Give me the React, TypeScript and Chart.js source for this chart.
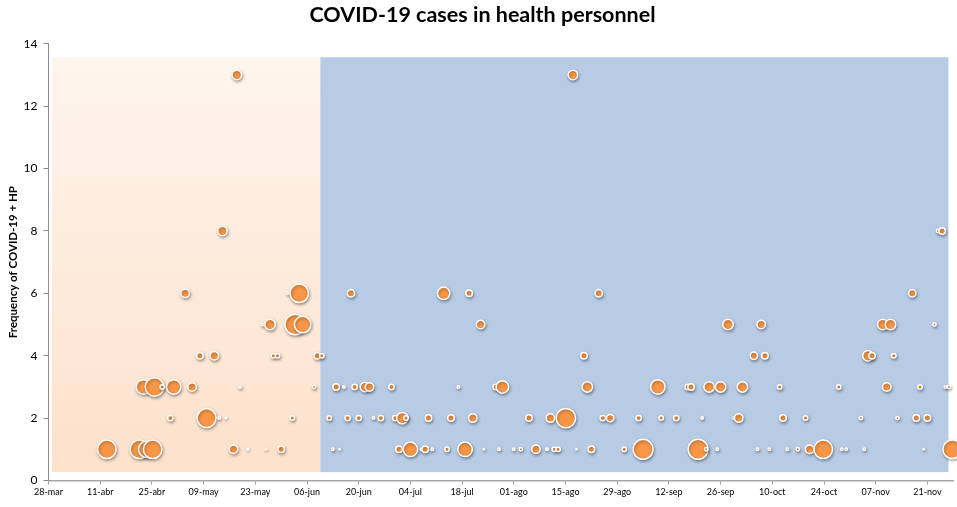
import { useEffect, useRef } from "react";
import { Chart, ChartConfiguration, Plugin, registerables } from "chart.js";

Chart.register(...registerables);

// x values are days counted from 28-mar; second number is the bubble size (area)
const freq1: [number, number][] = [
  [15.8, 100], [24.6, 100], [26.6, 81], [28.2, 100], [50.1, 25], [54.0, 2], [58.9, 2],
  [63.0, 16], [77.0, 4], [78.8, 2], [94.9, 16], [98.0, 64], [101.0, 4], [102.0, 16],
  [103.9, 4], [107.9, 9], [112.8, 64], [117.9, 2], [122.0, 4], [126.0, 4], [127.9, 6],
  [131.1, 4], [132.0, 25], [135.0, 4], [137.0, 9], [138.0, 9], [143.0, 2], [147.0, 16],
  [155.9, 9], [161.0, 115], [175.9, 115], [178.1, 6], [181.1, 4], [192.0, 4], [195.2, 4],
  [200.1, 4], [202.9, 6], [206.1, 25], [208.2, 4], [208.9, 4], [209.8, 100], [214.8, 4],
  [216.0, 4], [220.9, 4], [237.0, 2], [244.7, 100],
];
const freq2: [number, number][] = [
  [33.0, 12], [42.8, 105], [46.2, 4], [48.0, 2], [66.0, 9], [76.0, 9], [81.0, 12],
  [84.0, 12], [88.0, 4], [90.0, 12], [93.9, 12], [95.8, 42], [96.8, 9], [102.9, 16],
  [109.0, 16], [114.9, 25], [130.1, 16], [135.9, 25], [140.1, 110], [150.1, 12],
  [152.1, 20], [159.8, 12], [165.9, 9], [170.0, 12], [177.0, 4], [185.8, 6], [186.9, 25],
  [198.9, 16], [205.0, 9], [220.0, 6], [229.9, 6], [235.0, 16], [238.0, 16],
];
const freq3: [number, number][] = [
  [25.7, 64], [28.7, 100], [30.8, 9], [33.9, 64], [38.9, 25], [51.9, 4], [71.9, 6],
  [77.9, 16], [80.0, 4], [82.9, 12], [85.7, 30], [86.9, 25], [92.9, 12], [111.0, 4],
  [121.1, 12], [122.9, 49], [145.9, 36], [165.0, 64], [173.1, 12], [174.0, 16],
  [178.9, 36], [182.0, 36], [187.9, 36], [198.0, 9], [214.0, 9], [227.0, 25], [236.0, 9],
  [242.9, 4], [243.8, 6],
];
const freq4: [number, number][] = [
  [41.0, 16], [44.9, 25], [60.9, 9], [62.0, 9], [72.8, 16], [74.0, 9], [145.0, 16],
  [191.0, 20], [194.0, 16], [221.9, 36], [223.0, 16], [228.9, 9],
];
const freq5: [number, number][] = [
  [57.9, 4], [60.0, 36], [66.8, 121], [68.8, 81], [117.0, 25], [184.0, 36], [193.0, 25],
  [225.9, 36], [228.0, 36], [239.9, 6],
];
const freq6: [number, number][] = [
  [37.0, 25], [64.8, 4], [67.9, 100], [81.9, 20], [107.0, 49], [113.9, 16], [149.0, 20],
  [233.9, 20],
];
const freq8: [number, number][] = [[47.1, 30], [240.9, 6], [242.0, 16]];
const freq13: [number, number][] = [[51.0, 30], [142.0, 30]];

const frequencyRows: [number, [number, number][]][] = [
  [1, freq1], [2, freq2], [3, freq3], [4, freq4], [5, freq5], [6, freq6], [8, freq8], [13, freq13],
];

const xTickLabels = [
  "28-mar", "11-abr", "25-abr", "09-may", "23-may", "06-jun", "20-jun", "04-jul", "18-jul",
  "01-ago", "15-ago", "29-ago", "12-sep", "26-sep", "10-oct", "24-oct", "07-nov", "21-nov",
];
const tickStepDays = 14;
const xMaxDay = 245;

// the two periods shaded behind the bubbles (days from 28-mar)
const firstPeriod = [0.9, 73.6];
const secondPeriod = [73.6, 243.7];
const periodFreqRange = [0.27, 13.57];

const FONT = 'Lato, "Open Sans", sans-serif';

const periodsPlugin: Plugin<"bubble"> = {
  id: "periods",
  beforeDatasetsDraw(chart) {
    const { ctx, scales } = chart;
    const x = scales.x;
    const y = scales.y;
    const top = y.getPixelForValue(periodFreqRange[1]);
    const bottom = y.getPixelForValue(periodFreqRange[0]);

    const x0 = x.getPixelForValue(firstPeriod[0]);
    const x1 = x.getPixelForValue(firstPeriod[1]);
    const grad = ctx.createLinearGradient(0, top, 0, bottom);
    grad.addColorStop(0, "#fef5ed");
    grad.addColorStop(1, "#fce1cb");
    ctx.save();
    ctx.fillStyle = grad;
    ctx.fillRect(x0, top, x1 - x0, bottom - top);

    const x2 = x.getPixelForValue(secondPeriod[0]);
    const x3 = x.getPixelForValue(secondPeriod[1]);
    ctx.fillStyle = "#b8cbe4";
    ctx.fillRect(x2, top, x3 - x2, bottom - top);
    ctx.restore();

    // soft drop shadow under the bubbles
    ctx.save();
    ctx.shadowColor = "rgba(0, 0, 0, 0.35)";
    ctx.shadowBlur = 3;
    ctx.shadowOffsetX = 0.8;
    ctx.shadowOffsetY = 1.5;
  },
  afterDatasetsDraw(chart) {
    chart.ctx.restore();
  },
};

export default function App() {
  const chartRef = useRef<HTMLCanvasElement>(null);
  const chartInstance = useRef<Chart | null>(null);

  useEffect(() => {
    if (!chartRef.current) return;
    const ctx = chartRef.current.getContext("2d");
    if (!ctx) return;

    if (chartInstance.current) {
      chartInstance.current.destroy();
    }

    const points = frequencyRows.flatMap(([freq, row]) =>
      row.map(([day, size]) => ({ x: day, y: freq, r: Math.sqrt(size) - 0.75 }))
    );

    const config: ChartConfiguration<"bubble"> = {
      type: "bubble",
      data: {
        datasets: [
          {
            data: points,
            backgroundColor: "#f79646",
            borderColor: "#ffffff",
            borderWidth: 1.5,
            clip: false,
          },
        ],
      },
      options: {
        responsive: true,
        maintainAspectRatio: false,
        animation: false,
        events: [],
        layout: { padding: 0 },
        plugins: {
          legend: { display: false },
          tooltip: { enabled: false },
          title: {
            display: true,
            text: "COVID-19 cases in health personnel",
            color: "#000",
            font: { family: FONT, size: 21.5, weight: "bold" },
            padding: { top: 2, bottom: 16 },
          },
        },
        scales: {
          x: {
            type: "linear",
            min: 0,
            max: xMaxDay,
            afterFit: (scale) => {
              scale.height = 26.5;
            },
            grid: { drawOnChartArea: false, drawTicks: true, tickLength: 4, color: "#9a9a9a" },
            border: { color: "#a6a6a6", width: 1.5 },
            ticks: {
              stepSize: tickStepDays,
              includeBounds: false,
              autoSkip: false,
              maxRotation: 0,
              padding: 2,
              color: "#000",
              font: { family: FONT, size: 9 },
              callback: (v) => xTickLabels[Math.round(Number(v) / tickStepDays)] ?? "",
            },
          },
          y: {
            min: 0,
            max: 14,
            afterFit: (scale) => {
              scale.width = 48.5;
            },
            grid: { drawOnChartArea: false, drawTicks: true, tickLength: 5, color: "#8c8c8c" },
            border: { color: "#8c8c8c", width: 1 },
            ticks: {
              stepSize: 2,
              padding: 6,
              color: "#000",
              font: { family: FONT, size: 12 },
            },
            title: {
              display: true,
              text: "Frequency of COVID-19 + HP",
              color: "#000",
              font: { family: FONT, size: 11.5, weight: "bold" },
              padding: { top: 6, bottom: 0 },
            },
          },
        },
      },
      plugins: [periodsPlugin],
    };

    chartInstance.current = new Chart(ctx, config);

    return () => {
      if (chartInstance.current) {
        chartInstance.current.destroy();
        chartInstance.current = null;
      }
    };
  }, []);

  // the canvas is a little wider than the window so the plot reaches the right edge
  return (
    <div style={{ position: "fixed", left: 0, top: 0, width: 957, height: 507, overflow: "hidden", background: "#fff" }}>
      <div style={{ position: "relative", width: 965, height: 507 }}>
        <canvas ref={chartRef} />
      </div>
    </div>
  );
}
